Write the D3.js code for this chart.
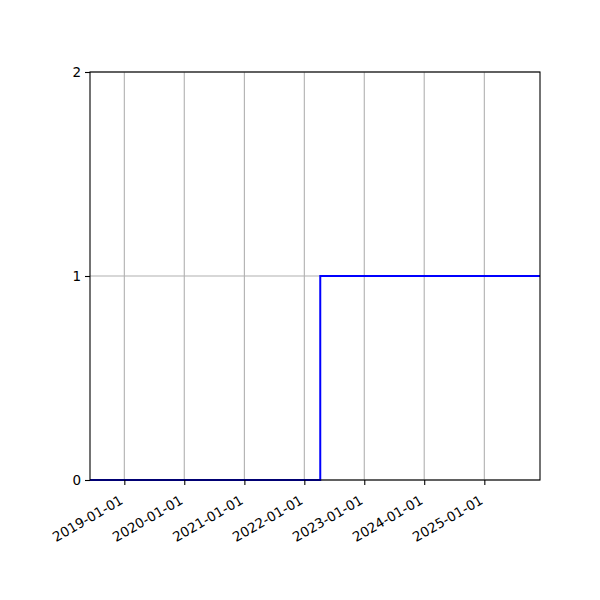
<!DOCTYPE html>
<html>
<head>
<meta charset="utf-8">
<script src="https://cdn.jsdelivr.net/npm/d3@7"></script>
<style>
  body { margin: 0; background: #fff; }
  text { font-family: "DejaVu Sans", sans-serif; }
</style>
</head>
<body>
<svg id="chart" width="600" height="600"></svg>
<script>
const dates = ["2018-06-06", "2022-04-08", "2025-12-06"];
const values = [0, 1, 1];
const xTicks = ["2019-01-01", "2020-01-01", "2021-01-01", "2022-01-01", "2023-01-01", "2024-01-01", "2025-01-01"];
const yTicks = [0, 1, 2];

const parse = d3.utcParse("%Y-%m-%d");
const data = dates.map((d, i) => ({ date: parse(d), value: values[i] }));

const svg = d3.select("#chart");
const margin = { top: 72, right: 60, bottom: 120, left: 90 };
const width = 600, height = 600;

const x = d3.scaleUtc()
  .domain(d3.extent(data, d => d.date))
  .range([margin.left, width - margin.right]);
const y = d3.scaleLinear()
  .domain([0, 2])
  .range([height - margin.bottom, margin.top]);

// grid
svg.append("g")
  .selectAll("line")
  .data(xTicks)
  .enter()
  .append("line")
  .attr("x1", d => x(parse(d)))
  .attr("x2", d => x(parse(d)))
  .attr("y1", y(0))
  .attr("y2", y(2))
  .attr("stroke", "#b0b0b0")
  .attr("stroke-width", 1.1);
svg.append("g")
  .selectAll("line")
  .data(yTicks)
  .enter()
  .append("line")
  .attr("x1", x.range()[0])
  .attr("x2", x.range()[1])
  .attr("y1", d => y(d))
  .attr("y2", d => y(d))
  .attr("stroke", "#b0b0b0")
  .attr("stroke-width", 1.1);

// step line
const line = d3.line()
  .x(d => x(d.date))
  .y(d => y(d.value))
  .curve(d3.curveStepAfter);
svg.append("path")
  .datum(data)
  .attr("d", line)
  .attr("fill", "none")
  .attr("stroke", "#0000ff")
  .attr("stroke-width", 2);

// frame
svg.append("rect")
  .attr("x", margin.left)
  .attr("y", margin.top)
  .attr("width", width - margin.left - margin.right)
  .attr("height", height - margin.top - margin.bottom)
  .attr("fill", "none")
  .attr("stroke", "#000")
  .attr("stroke-width", 1.1);

// x axis
const xAxis = svg.append("g")
  .attr("transform", `translate(0, ${y(0)})`)
  .call(d3.axisBottom(x)
    .tickValues(xTicks.map(parse))
    .tickSize(5)
    .tickFormat(d3.utcFormat("%Y-%m-%d")));
xAxis.select(".domain").remove();
xAxis.selectAll(".tick line").attr("stroke", "#000").attr("stroke-width", 1.1);
xAxis.selectAll(".tick text")
  .attr("font-size", 13.5)
  .attr("font-family", "DejaVu Sans")
  .attr("fill", "#000")
  .attr("text-anchor", "end")
  .attr("dy", null)
  .attr("y", 0)
  .attr("transform", "translate(-6, 14) rotate(-30)")
  .attr("dominant-baseline", "hanging");

// y axis
const yAxis = svg.append("g")
  .attr("transform", `translate(${margin.left}, 0)`)
  .call(d3.axisLeft(y).tickValues(yTicks).tickSize(5).tickFormat(d3.format("d")));
yAxis.select(".domain").remove();
yAxis.selectAll(".tick line").attr("stroke", "#000").attr("stroke-width", 1.1);
yAxis.selectAll(".tick text")
  .attr("font-size", 13.5)
  .attr("font-family", "DejaVu Sans")
  .attr("fill", "#000")
  .attr("x", -9);
</script>
</body>
</html>
